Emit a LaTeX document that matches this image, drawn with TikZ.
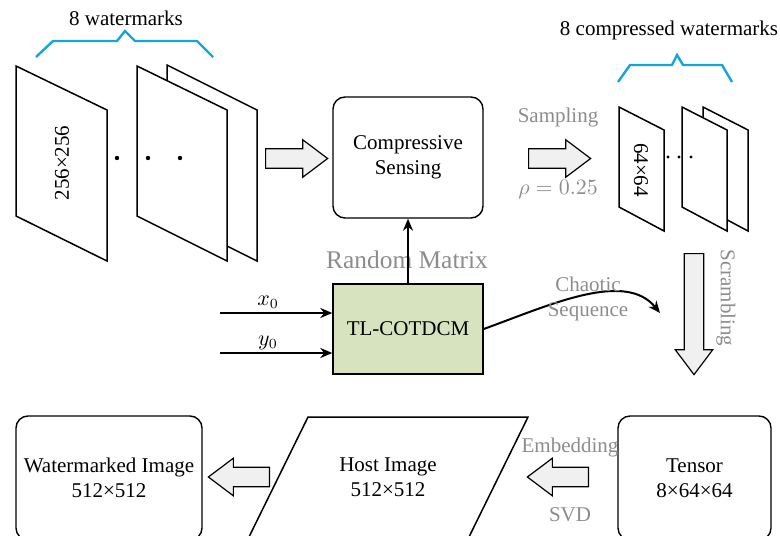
\documentclass[tikz,border=0pt]{standalone}
\usepackage{fontspec}
\setmainfont{Liberation Serif}
\usetikzlibrary{arrows.meta,positioning,shapes.arrows,shapes.geometric}

\definecolor{bracecol}{RGB}{20,165,220}
\definecolor{labelgray}{RGB}{140,140,140}
\definecolor{chaosgreen}{RGB}{215,227,190}
\definecolor{arrowfill}{RGB}{240,240,240}

\begin{document}
\begin{tikzpicture}[x=0.5pt, y=-0.5pt,
    every node/.style={font=\fontsize{10.5}{12.5}\selectfont, align=center},
    block/.style={draw, line width=0.7pt, rounded corners=6pt, inner sep=0pt},
    slab/.style={draw, fill=white, line width=0.75pt},
    brace/.style={draw=bracecol, line width=1.2pt},
    glabel/.style={text=labelgray},
    fatarrow/.style={single arrow, draw, fill=arrowfill, line width=0.6pt,
        inner xsep=0pt, inner ysep=4.6pt, single arrow head extend=4.5pt,
        single arrow tip angle=74, minimum height=31pt},
    link/.style={-{Stealth[length=6pt,width=5pt]}, line width=1pt}
]
\useasboundingbox (0,0) rectangle (780,535);
\clip (0,0) rectangle (780,535);

% original watermarks
\path[slab] (167,65) -- (257,110) -- (257,261) -- (167,216) -- cycle;
\path[slab] (137,66) -- (227,110) -- (227,261) -- (137,216) -- cycle;
\path[slab] (16,66) -- (107,110) -- (107,261) -- (16,216) -- cycle;
\node[rotate=90] (wmsize) at (62,163) {256×256};
\foreach \dx in {117,148,180}
    \fill (\dx,158) circle (1.1pt);
\path[brace] (36,57) -- (53,41) -- (117,41) -- (125,31) -- (135,41) -- (197,41) -- (213,57);
\node (wmtitle) at (126,18) {8 watermarks};

% compressive sensing
\node[block, minimum width=75pt, minimum height=60.5pt] (cs) at (408,157.5) {Compressive\\Sensing};
\node[fatarrow, anchor=tail] (toCS) at (265,158.5) {};

\node[block, rounded corners=0pt, fill=chaosgreen, minimum width=75pt, minimum height=45pt] (chaos) at (408,329) {TL-COTDCM};
\node[glabel, font=\fontsize{12.7}{14}\selectfont] (rmlabel) at (407,260) {Random Matrix};
\draw[link] (chaos) -- (cs);

\coordinate (x0in) at (220,313);
\coordinate (y0in) at (220,353);
\draw[link] (x0in) -- (x0in -| chaos.west);
\draw[link] (y0in) -- (y0in -| chaos.west);
\node (x0lab) at (268,302) {$x_0$};
\node (y0lab) at (268,343) {$y_0$};

% sampling
\node[fatarrow, anchor=tail] (sample) at (528,158.5) {};
\node[glabel] (samplab) at (558,117) {Sampling};
\node[glabel] (rholab) at (558,190) {$\rho = 0.25$};

% compressed watermarks
\path[slab] (703,107) -- (748,130) -- (748,231) -- (703,207) -- cycle;
\path[slab] (682,107) -- (727,130) -- (727,231) -- (682,207) -- cycle;
\path[slab] (619,107) -- (664,130) -- (664,231) -- (619,207) -- cycle;
\node[rotate=-90] (cwsize) at (641,170) {64×64};
\foreach \dx in {668,679,691}
    \fill (\dx,157) circle (0.85pt);
\path[brace] (618,82) -- (630,65) -- (672,65) -- (677,55) -- (683,65) -- (722,65) -- (732,82);
\node (cwtitle) at (669,30) {8 compressed watermarks};

% chaotic sequence
\coordinate (seqend) at (660,313);
\draw[link] (chaos.east) .. controls (550,305) and (625,270) .. (seqend);
\node[glabel] (seqlab) at (588,299) {Chaotic\\Sequence};

% scrambling
\node[fatarrow, shape border rotate=270, anchor=tail, inner xsep=4.6pt, inner ysep=0pt, minimum height=60.5pt] (scramble) at (694,253) {};
\node[glabel, rotate=-90] (scrlab) at (726,298) {Scrambling};

% bottom row
\node[block, minimum width=76.5pt, minimum height=62pt] (tensor) at (694.5,478) {Tensor\\8×64×64};
\path[slab] (308,417) -- (528,417) -- (467.5,540) -- (247.5,540) -- cycle;
\node (host) at (388,477.5) {Host Image\\512×512};
\node[block, minimum width=93pt, minimum height=62pt] (marked) at (109,478) {Watermarked Image\\512×512};

\node[fatarrow, shape border rotate=180, anchor=tail, minimum height=30.5pt] (embed) at (589,477) {};
\node[glabel] (emblab) at (570,447) {Embedding};
\node[glabel] (svdlab) at (570,515) {SVD};
\node[fatarrow, shape border rotate=180, anchor=tail, minimum height=30.5pt] (extract) at (270,477) {};
\end{tikzpicture}
\end{document}
